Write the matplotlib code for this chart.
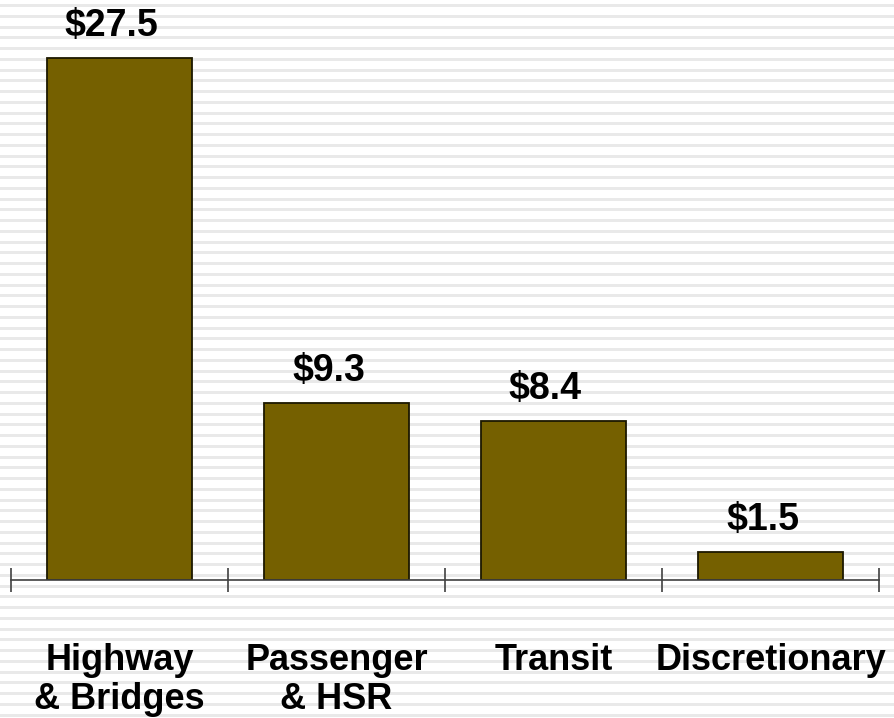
import matplotlib.pyplot as plt
import numpy as np

# Funding by mode ($ billions)
categories = ['Highway\n& Bridges', 'Passenger\n& HSR', 'Transit', 'Discretionary']
values = [27.5, 9.3, 8.4, 1.5]
value_labels = ['$27.5', '$9.3', '$8.4', '$1.5']

plt.rcParams['font.family'] = ['Liberation Sans', 'DejaVu Sans']

W, H = 894, 718
fig = plt.figure(figsize=(W / 100, H / 100), dpi=100)

# striped background over the whole figure
bg = fig.add_axes([0, 0, 1, 1], zorder=0)
bg.set_xlim(0, 1)
bg.set_ylim(H, 0)
for y in np.arange(4, H, 10.75):
    bg.axhspan(y, y + 3, color='#e9e9e9', lw=0)
bg.axis('off')

# plot area: x from 11 to 879 px, baseline at 580 px from top
left, right = 11 / W, 879 / W
bottom = (H - 580) / H
ax = fig.add_axes([left, bottom, right - left, 1 - bottom], zorder=1)
ax.patch.set_alpha(0)

x = np.arange(len(categories))
ax.bar(x, values, width=0.665, color='#756000', edgecolor='#1c1800', linewidth=1.3)

ax.set_xlim(-0.5, len(categories) - 0.5)
ax.set_ylim(0, 580 / 18.98)

for xi, v, lab in zip(x, values, value_labels):
    ax.annotate(lab, (xi, v), xytext=(-8, 14), textcoords='offset pixels',
                ha='center', va='bottom', fontsize=27, fontweight='bold')

for s in ['top', 'right', 'left']:
    ax.spines[s].set_visible(False)
ax.spines['bottom'].set_color('#404040')
ax.spines['bottom'].set_linewidth(1.2)
ax.set_yticks([])

ax.set_xticks(x)
ax.set_xticklabels(categories, fontsize=26, fontweight='bold', linespacing=1.15)
ax.tick_params(axis='x', which='major', length=0, pad=45)
ax.set_xticks(np.arange(-0.5, len(categories)), minor=True)
ax.tick_params(axis='x', which='minor', direction='inout', length=17, width=1.2,
               color='#404040')

fig.savefig('out.png', dpi=100)
